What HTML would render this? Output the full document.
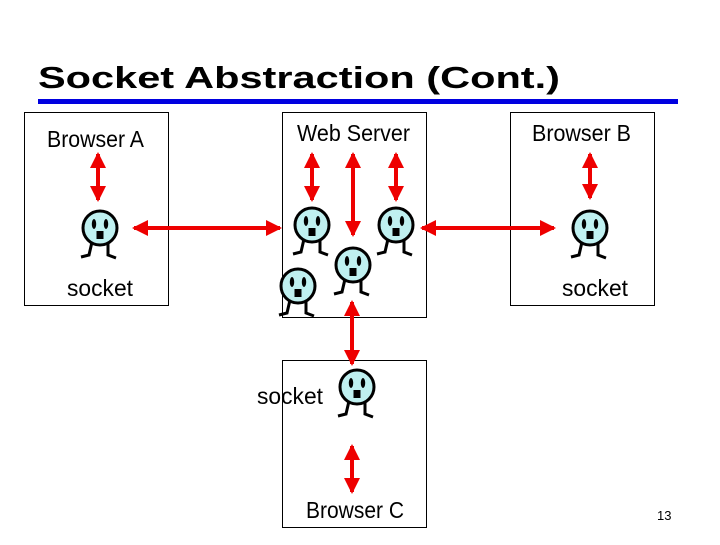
<!DOCTYPE html><html><head><style>body{margin:0;background:#fff}svg text{font-family:"Liberation Sans",sans-serif}</style></head><body>
<svg width="720" height="540" xmlns="http://www.w3.org/2000/svg">
<defs>
<g id="s"><path d="M-8,14 L-11,27 L-19,29 M8,14 L8,27 L16,30" stroke="#000" stroke-width="3" fill="none"/>
<circle r="17" fill="#bff0f0" stroke="#000" stroke-width="3"/>
<ellipse cx="-6" cy="-4" rx="2.2" ry="5"/><ellipse cx="6" cy="-4" rx="2.2" ry="5"/><path d="M-3.5,3 h7 v8 h-7z"/></g>
<marker id="a" markerWidth="4" markerHeight="4" refX="3.5" refY="2" orient="auto-start-reverse" markerUnits="strokeWidth"><path d="M0,0L4,2L0,4z" fill="#e00"/></marker>
</defs>
<text x="38" y="88" font-size="31" font-weight="bold" textLength="522" lengthAdjust="spacingAndGlyphs">Socket Abstraction (Cont.)</text>
<rect x="38" y="99" width="640" height="5" fill="#0000e0"/>
<g fill="none" stroke="#000" stroke-width="1"><rect x="24.5" y="112.5" width="144" height="193"/><rect x="282.5" y="112.5" width="144" height="205"/><rect x="510.5" y="112.5" width="144" height="193"/><rect x="282.5" y="360.5" width="144" height="167"/></g>
<g font-size="23" lengthAdjust="spacingAndGlyphs">
<text x="47" y="147" textLength="97" lengthAdjust="spacingAndGlyphs">Browser A</text><text x="297" y="141" textLength="113" lengthAdjust="spacingAndGlyphs">Web Server</text><text x="532" y="141" textLength="99" lengthAdjust="spacingAndGlyphs">Browser B</text>
<text x="67" y="296" textLength="66" lengthAdjust="spacingAndGlyphs">socket</text><text x="562" y="296" textLength="66" lengthAdjust="spacingAndGlyphs">socket</text><text x="257" y="404" textLength="66" lengthAdjust="spacingAndGlyphs">socket</text><text x="306" y="518" textLength="98" lengthAdjust="spacingAndGlyphs">Browser C</text></g>
<text x="657" y="520" font-size="13">13</text>
<g stroke="#e00" stroke-width="4" marker-start="url(#a)" marker-end="url(#a)">
<line x1="98" y1="154" x2="98" y2="200"/><line x1="134" y1="228" x2="280" y2="228"/><line x1="422" y1="228" x2="554" y2="228"/>
<line x1="312" y1="154" x2="312" y2="200"/><line x1="353" y1="154" x2="353" y2="235"/><line x1="396" y1="154" x2="396" y2="200"/>
<line x1="590" y1="154" x2="590" y2="198"/><line x1="352" y1="302" x2="352" y2="364"/><line x1="352" y1="446" x2="352" y2="492"/></g>
<use href="#s" x="100" y="228"/><use href="#s" x="312" y="225"/><use href="#s" x="396" y="225"/><use href="#s" x="353" y="265"/><use href="#s" x="298" y="286"/><use href="#s" x="590" y="228"/><use href="#s" x="357" y="387"/>
</svg></body></html>
